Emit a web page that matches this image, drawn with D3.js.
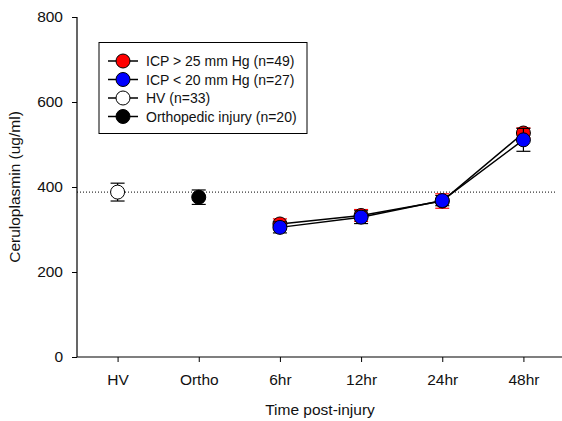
<!DOCTYPE html>
<html>
<head>
<meta charset="utf-8">
<script src="https://cdn.jsdelivr.net/npm/d3@7"></script>
<style>
  body { margin: 0; background: #fff; }
  text { font-family: "Liberation Sans", Arial, sans-serif; }
</style>
</head>
<body>
<svg id="chart" width="562" height="421"></svg>
<script>
// categories on the x axis
let categories = ["HV", "Ortho", "6hr", "12hr", "24hr", "48hr"]
let timeCats = ["6hr", "12hr", "24hr", "48hr"]

// series values (mean, sem)
let icpHigh = [313, 333, 367, 527]
let icpHighErr = [12, 14, 17, 12]
let icpLow = [305, 329, 368, 511]
let icpLowErr = [13, 15, 12, 27]
let hvMean = 388, hvErr = 21
let orthoMean = 376, orthoErr = 17
let refLine = 388

let yTicks = [0, 200, 400, 600, 800]

let legendItems = [
  { label: "ICP > 25 mm Hg (n=49)", fill: "#ff0000" },
  { label: "ICP < 20 mm Hg (n=27)", fill: "#0000ff" },
  { label: "HV (n=33)", fill: "#ffffff" },
  { label: "Orthopedic injury (n=20)", fill: "#000000" }
]

let svg = d3.select("#chart")

let x = d3.scalePoint().domain(categories).range([77, 564]).padding(0.5)
let y = d3.scaleLinear().domain([0, 800]).range([357, 17])

// axes
let yAxis = svg.append("g").attr("transform", "translate(77,0)")
  .call(d3.axisLeft(y).tickValues(yTicks).tickSize(5).tickPadding(9))
let xAxis = svg.append("g").attr("transform", "translate(0,357)")
  .call(d3.axisBottom(x).tickSize(5).tickPadding(12))
yAxis.select(".domain").attr("d", "M0,17V357").attr("stroke-width", 1.2)
xAxis.select(".domain").attr("d", "M77,0H564").attr("stroke-width", 1.2)
svg.selectAll(".tick text").attr("font-size", 15.5).attr("fill", "#111")
  .attr("font-family", "Liberation Sans, Arial, sans-serif")

svg.append("text").attr("x", 320).attr("y", 415).attr("text-anchor", "middle")
  .attr("font-size", 15.5).attr("fill", "#111").text("Time post-injury")
svg.append("text").attr("transform", "translate(20,187) rotate(-90)")
  .attr("text-anchor", "middle").attr("font-size", 15.5).attr("fill", "#111")
  .text("Ceruloplasmin (ug/ml)")

// dotted reference line
svg.append("line").attr("x1", 77).attr("x2", 556)
  .attr("y1", y(refLine)).attr("y2", y(refLine))
  .attr("stroke", "#000").attr("stroke-dasharray", "1,2")

function errorBar(cx, m, e, color) {
  let g = svg.append("g").attr("stroke", color).attr("stroke-width", 1.2)
  g.append("line").attr("x1", cx).attr("x2", cx).attr("y1", y(m + e)).attr("y2", y(m - e))
  g.append("line").attr("x1", cx - 7).attr("x2", cx + 7).attr("y1", y(m + e)).attr("y2", y(m + e))
  g.append("line").attr("x1", cx - 7).attr("x2", cx + 7).attr("y1", y(m - e)).attr("y2", y(m - e))
}

function drawSeries(vals, errs, fill, barColor) {
  timeCats.forEach((c, i) => errorBar(x(c), vals[i], errs[i], barColor))
  let line = d3.line().x((d, i) => x(timeCats[i])).y(d => y(d))
  svg.append("path").attr("d", line(vals)).attr("fill", "none")
    .attr("stroke", "#000").attr("stroke-width", 1.5)
  svg.append("g").selectAll("circle").data(vals).enter().append("circle")
    .attr("cx", (d, i) => x(timeCats[i])).attr("cy", d => y(d)).attr("r", 7)
    .attr("fill", fill).attr("stroke", "#000").attr("stroke-width", 1)
}

drawSeries(icpHigh, icpHighErr, "#ff0000", "#ff0000")
drawSeries(icpLow, icpLowErr, "#0000ff", "#000")

errorBar(x("HV"), hvMean, hvErr, "#000")
svg.append("circle").attr("cx", x("HV")).attr("cy", y(hvMean)).attr("r", 7)
  .attr("fill", "#fff").attr("stroke", "#000")
errorBar(x("Ortho"), orthoMean, orthoErr, "#000")
svg.append("circle").attr("cx", x("Ortho")).attr("cy", y(orthoMean)).attr("r", 7)
  .attr("fill", "#000").attr("stroke", "#000")

// legend
let legend = svg.append("g")
legend.append("rect").attr("x", 99).attr("y", 42.5).attr("width", 208).attr("height", 91)
  .attr("fill", "#fff").attr("stroke", "#000")
legendItems.forEach((d, i) => {
  let ly = 61 + i * 18.5
  legend.append("line").attr("x1", 108).attr("x2", 138).attr("y1", ly).attr("y2", ly)
    .attr("stroke", "#000").attr("stroke-width", 1.5)
  legend.append("circle").attr("cx", 123).attr("cy", ly).attr("r", 7)
    .attr("fill", d.fill).attr("stroke", "#000")
  legend.append("text").attr("x", 146).attr("y", ly + 5).attr("font-size", 14)
    .attr("fill", "#111").text(d.label)
})
</script>
</body>
</html>
